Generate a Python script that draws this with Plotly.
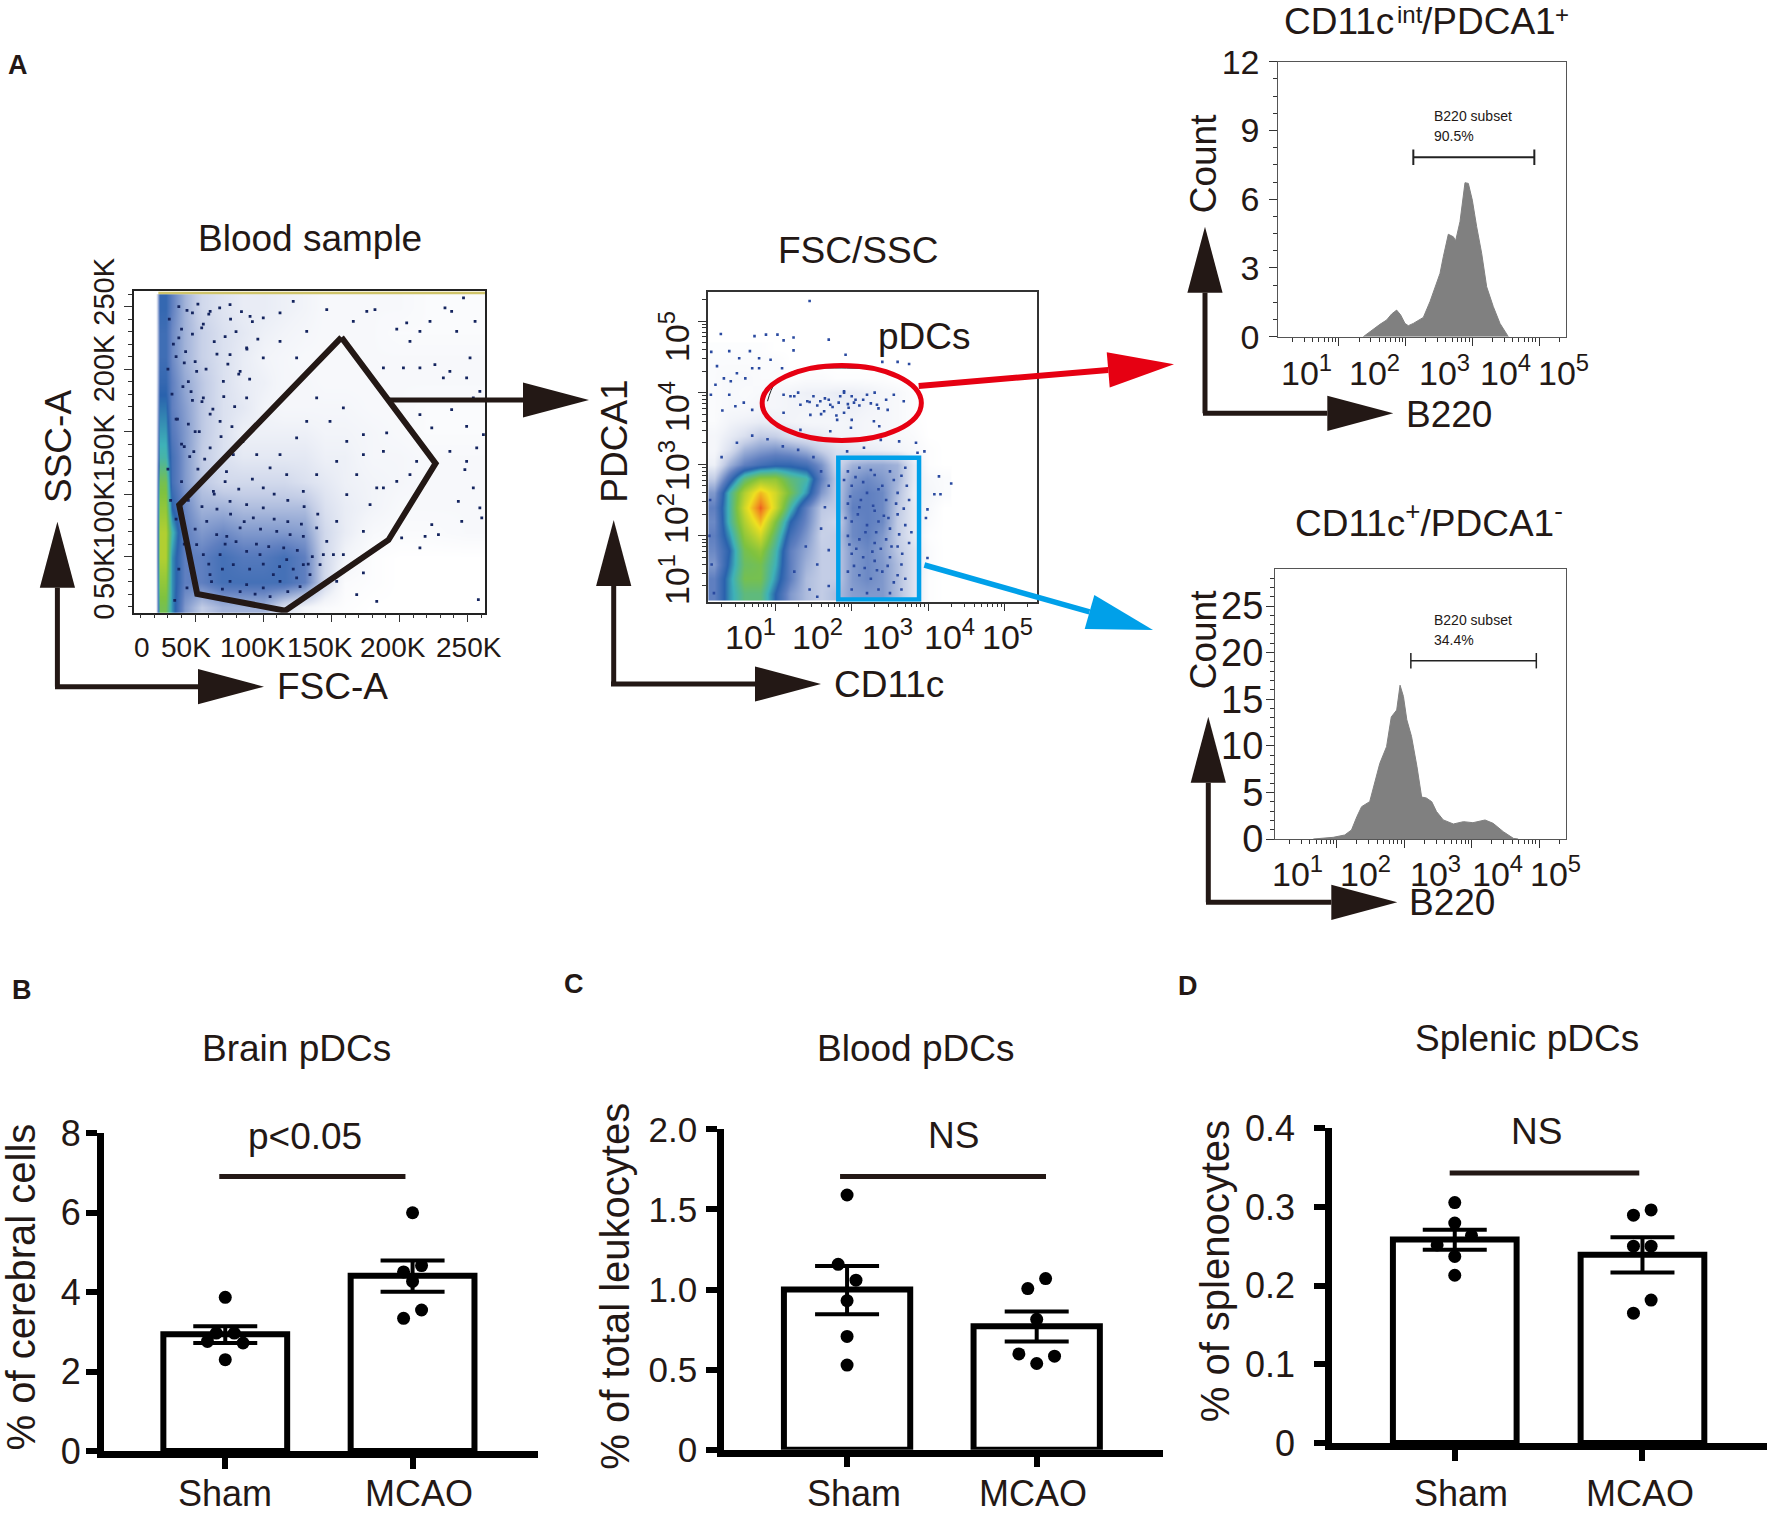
import numpy as np
import plotly.graph_objects as go

# ---------- panel A data ----------
# FSC/SSC plot: estimated density of the cloud, in thousands
fsc_grid = [21, 24, 28, 33, 42, 55, 70, 85, 100, 115, 130, 145, 160, 180, 200, 220, 250]
ssc_grid = [10, 30, 50, 70, 90, 110, 130, 150, 170, 190, 210, 230, 250]
ssc_density = [
    [0, 6, 6, 4.5, 2.5, 1.5, 2, 2, 2, 1, .5, .2, .1, 0, 0, 0, 0],
    [0, 6.5, 6.5, 4.5, 3, 3, 3.5, 3.5, 3.5, 3.5, 3, 1.2, .2, .1, 0, 0, 0],
    [0, 7, 7, 4.5, 3, 3, 3.5, 3.2, 3.2, 3.5, 3, 1.2, .5, .1, 0, 0, 0],
    [0, 7, 7, 5, 3, 2.5, 2.8, 2.5, 2.5, 2.5, 2.4, 1.2, .7, .3, .2, .2, .3],
    [0, 6.5, 6.5, 4, 2.8, 2, 2, 1.8, 1.8, 1.8, 1.8, 1, .7, .5, .3, .3, .3],
    [0, 6, 6, 3.5, 2.5, 1.6, 1.2, 1.2, 1.2, 1.2, 1, .8, .6, .5, .4, .3, .3],
    [0, 5, 5, 3.5, 2.5, 1.5, 1, .8, .8, .8, .8, .6, .6, .4, .4, .3, .3],
    [0, 4.6, 4.6, 3.2, 2.5, 1.6, 1, .6, .6, .6, .6, .5, .5, .4, .3, .2, .2],
    [0, 4.2, 4.2, 3, 2.4, 1.6, 1, .8, .5, .4, .4, .4, .4, .3, .3, .2, .2],
    [0, 3.8, 3.8, 3, 2.2, 1.6, 1, .7, .6, .4, .4, .3, .3, .3, .3, .3, .3],
    [0, 3.6, 3.6, 2.8, 2, 1.4, 1, .7, .5, .4, .3, .3, .3, .3, .3, .3, .3],
    [0, 3.6, 3.6, 2.8, 2, 1.4, 1, .8, .6, .5, .4, .3, .3, .3, .2, .2, .2],
    [0, 3.8, 3.8, 3, 2, 1.2, .9, .7, .7, .6, .5, .3, .3, .3, .3, .2, .2],
]
fsc_dots = [198, 205.3, 215, 222.4, 233.4, 238.3, 247, 255.5, 251.8, 242, 226, 232.2, 249.3, 259, 215, 202.9,
            188.2, 176, 182, 166.1, 146.6, 122, 131.9, 112.3, 207.7, 237, 254.2, 215, 223.7, 238.3, 249.3, 261.6,
            256.7, 249.3, 237, 248, 254.2, 243.2, 259, 260.4, 245.7, 223.7, 228.6, 218.8, 215, 201.6, 207.7, 198,
            188.2, 178.4, 183.3, 168.6, 161.3, 153.9, 173.5, 158.8, 173.5, 153.9, 168.6, 183.3, 257.9, 161.3, 173.5,
            190.6, 153.9, 139.2, 173.5, 188.2, 212.6, 149, 158.8, 139.2, 131.9, 124.5, 112.3, 105, 95.2, 117.2,
            129.4, 100, 87.8, 75.6, 63.4, 78, 87.8, 83, 75.6, 70.7, 87.8, 100, 112.3, 124.5, 68.3, 61, 56, 51.1,
            54.8, 61, 75.6, 90.3, 100,
            # lower part of the gate
            58.5, 65.8, 73.2, 83, 92.7, 100, 109.9, 119.7, 129.4, 139.2, 146.6, 151.5, 141.7, 129.4, 117.2, 107.4,
            97.6, 87.8, 78, 68.3, 60.9, 56, 51.1, 75.6, 87.8, 100, 112.3, 124.5, 134.3, 144.1,
            62, 70, 83, 94, 105, 118, 127, 72, 80, 95, 104, 115, 125, 136, 60, 70, 90, 100, 112, 122, 133,
            66, 76, 86, 98, 108, 118, 128, 50, 55, 64, 72, 82, 92, 108, 118, 130, 140,
            # left band
            30, 33, 36, 40, 31, 38, 42, 45, 30, 40, 45, 36, 42, 38, 44, 35, 48, 50, 46, 52, 32, 34, 48,
            # upper left of the gate
            38, 44, 52, 60, 68, 76, 84, 92, 40, 48, 56, 64, 72, 80, 88, 96, 36, 43, 50, 58, 66, 74, 82, 90,
            41, 47, 55, 63, 71, 79, 37, 45, 53, 61, 69, 77, 85, 42, 49, 57, 65, 73]
ssc_dots = [232, 237, 230.3, 238.3, 249, 246.3, 257, 238.3, 209, 230.3, 203.7, 193, 193, 182.3, 201, 201,
            201, 246.3, 247.7, 238.3, 247.7, 254.3, 230.3, 245, 222.3, 198.3, 177, 163.7, 153, 167.7, 154.3, 147.7,
            137, 126.3, 134.3, 119.7, 105, 94.3, 89, 81, 78.3, 75.7, 67.7, 66.3, 57, 65, 115.7, 110.3,
            105, 91.7, 105, 115.7, 99.7, 78.3, 70.3, 51.7, 37, 30.3, 19.6, 14.3, 15.6, 142.3, 147.7,
            149, 126.3, 115.7, 131.7, 134.3, 126.3, 158.3, 169, 177, 158.3, 145, 131.7, 121, 131.7, 115.7,
            102.3, 105, 91.7, 94.3, 102.3, 131.7, 177, 198.3, 211.7, 190.3, 217, 209, 222.3, 209, 158.3, 137, 177, 198.3,
            233, 246.3, 251.7, 242.3, 241,
            78.3, 67.7, 66.3, 73, 81, 89, 70.3, 67.7, 66.3, 73, 62.3, 51.7, 43.6, 43.6, 47.6, 35.6,
            51.7, 54.3, 43.6, 51.7, 35.6, 51.7, 59.6, 30.3, 27.6, 25, 30.3, 33, 35.6, 51.7,
            30, 24, 22, 20, 18, 22, 26, 60, 62, 60, 58, 57, 55, 50, 44, 40, 40, 44, 42, 40, 44,
            88, 84, 78, 72, 80, 78, 76, 72, 90, 100, 110, 104, 112, 100, 95, 90, 84,
            200, 180, 160, 140, 240, 225, 205, 190, 120, 110, 95, 80, 60, 40, 25, 15, 175, 150, 130, 120, 95, 220, 245,
            250, 247, 252, 244, 249, 240, 246, 238, 232, 228, 236, 222, 226, 230, 216, 224, 210, 214, 206, 200, 212, 204, 196, 192,
            186, 182, 174, 168, 178, 170, 160, 156, 150, 164, 146, 154, 142, 138, 134, 128, 122, 118]
top_edge_fsc = [23, 263]
top_edge_ssc = [261, 261]
gate_fsc = [157.4, 226.5, 191.9, 116.1, 51.5, 38.3, 157.4]
gate_ssc = [225.5, 124.7, 63.4, 6.8, 20.2, 91.4, 225.5]

# CD11c/PDCA1 plot, log10 decades
cd11c_grid = [.2, .4, .6, .8, 1, 1.2, 1.4, 1.6, 1.8, 2, 2.2, 2.4, 2.6, 2.8, 3, 3.2]
pdca1_grid = [.2, .4, .6, .8, 1, 1.2, 1.4, 1.6, 1.8, 2, 2.2, 2.4, 2.6, 2.8, 3, 3.2, 3.4, 3.6]
pdca1_density = [
    [3, 4.5, 5.5, 5.5, 4, 2.5, 1.8, 1.5, 1.8, 2.4, 2.5, 2.5, 1.8, 1, .1, 0],
    [3, 4.5, 6, 6, 4.5, 3, 1.8, 1.5, 1.5, 2.5, 2.8, 2.5, 1.8, 1, .1, 0],
    [2.5, 4.2, 5.8, 6, 4.8, 3, 2, 1.5, 1.5, 2.5, 2.8, 2.5, 1.8, 1, .2, 0],
    [2.8, 4, 6, 6.5, 5, 3, 2.2, 1.5, 1.5, 2.5, 2.8, 2.4, 1.6, 1, .2, 0],
    [3, 4.5, 6.5, 7.5, 5.5, 3.5, 2.5, 1.4, 1.5, 2.8, 3, 2.5, 1.5, .8, .1, 0],
    [2.8, 5, 7, 8.5, 6.2, 4, 2.8, 1.5, 1.2, 2.8, 3, 2.8, 1.5, .8, .2, 0],
    [3, 5, 7.5, 9.5, 7.5, 5, 3, 1.6, 1.5, 3, 3, 2.8, 1.6, .8, .3, 0],
    [2.5, 5, 7, 8.5, 7.5, 6, 4.5, 2.5, 1.5, 2.8, 3, 2.8, 1.8, .7, .4, .2],
    [1.5, 3.5, 5.5, 6.5, 6.5, 5.5, 5, 3, 1.5, 2.5, 2.8, 2.5, 2, .8, .3, .2],
    [.6, 2, 3, 3.5, 3.8, 3.8, 3.5, 2.6, 1.2, 2, 2.2, 2.2, 2, .8, .1, 0],
    [.4, 1, 2, 2.4, 2.6, 2.4, 2, 1.4, 1, .8, .7, .6, .5, .3, .1, 0],
    [.4, .7, 1, 1.5, 1.4, 1, .8, .7, .5, .5, .4, .4, .3, .2, 0, 0],
    [.2, .5, .6, .7, .6, .5, .4, .4, .4, .5, .4, .4, .3, .1, 0, 0],
    [.2, .3, .3, .4, .4, .5, .5, .5, .6, .6, .5, .4, .3, .1, 0, 0],
    [.2, .3, .2, .3, .4, .5, .6, .6, .7, .7, .6, .4, .3, .1, 0, 0],
    [.2, .3, .3, .2, .2, .1, .2, .2, .1, .1, .1, .1, 0, 0, 0, 0],
    [.2, .2, .2, .2, .2, 0, 0, 0, 0, 0, 0, 0, 0, 0, 0, 0],
    [.1, .1, .1, .1, 0, 0, 0, 0, 0, 0, 0, 0, 0, 0, 0, 0],
]
cd11c_dots = [1.45, 1.7, 1.03, .73, .88, 1.11, 1.24, .29, .165, .4, .53, .67, .79, .94, 1.24, 1.92, 2.4, 2.6, 2.75,
              .24, .7, .79, 1.09, .5, .33, .22, .42, .61, .16, .4, .59, .7, .31, .48, 1.11, 1.25, 1.42, 1.33, 1.59,
              1.72, 1.83, 1.9, 1.96, 2.03, 2.2, 2.33, 2.47, 2.68, 2.55, 1.11, 1.46, 1.64, 1.81, 1.99, 2.29, 2.36,
              1.33, 1.72, 2.38, 2.62, 2.84, 2.86, 2.95, 2.16, 1.94, 2.99, 2.97, 3.08, 3.14, 3.3, 2.99, 3.16,
              # inside the blue gate
              1.95, 2.1, 2.3, 2.5, 2.7, 2.0, 2.2, 2.4, 2.6, 2.75, 1.95, 2.1, 2.3, 2.45, 2.6, 2.0, 2.2, 2.35, 2.5, 2.7,
              1.95, 2.1, 2.3, 2.45, 2.6, 2.75, 2.0, 2.15, 2.3, 2.5, 2.65, 1.95, 2.1, 2.25, 2.4, 2.55, 2.7, 2.0, 2.2,
              2.35, 2.5, 2.65,
              1.9, 2.05, 2.15, 2.25, 2.35, 2.55, 2.65, 2.72, 1.98, 2.12, 2.28, 2.42, 2.58, 2.68,
              1.92, 2.08, 2.18, 2.32, 2.48, 2.62, 2.78, 1.97, 2.06, 2.27, 2.38, 2.52, 2.66, 2.03, 2.17, 2.33, 2.47, 2.6,
              # edge of the main cloud
              .3, .5, .7, .9, 1.1, 1.3, 1.5, 1.6, 1.7, 1.65, 1.6, 1.7, 1.55, 1.7, 1.45, 1.55, .15, .14, .17, .2, 1.25, 1.4,
              # inside the red gate
              1.2, 1.3, 1.5, 1.7, 1.9, 2.0, 2.15, 2.3, 2.45,
              1.45, 1.55, 1.65, 1.75, 1.85, 1.95, 2.05, 2.1, 2.25, 2.35, 1.6, 1.8, 1.9, 2.0]
pdca1_dots = [4.28, 3.74, 3.81, 3.79, 3.81, 3.73, 3.77, 3.82, 3.57, 3.58, 3.48, 3.58, 3.48, 3.46, 3.59, 3.53, 3.43, 3.43, 3.4,
              3.37, 3.34, 3.34, 3.34, 3.27, 3.2, 3.11, 3.16, 3.2, 2.97, 2.97, 2.86, 2.76, 2.75, 2.81, 2.97, 2.95, 2.88, 2.83, 2.88,
              2.83, 2.86, 3.02, 2.79, 2.86, 2.97, 2.83, 2.76, 2.88, 2.97, 2.72, 2.69, 2.74, 2.62, 2.51, 2.6, 2.53,
              2.48, 2.46, 2.34, 2.32, 2.3, 2.16, 2.18, 2.23, 2.18, 1.37, 1.25, 1.58, 1.83, 1.73, .69, 1.58,
              1.9, 1.95, 1.85, 1.9, 1.95, 1.7, 1.6, 1.7, 1.6, 1.5, 1.45, 1.4, 1.35, 1.5, 1.3, 1.2, 1.15, 1.2, 1.1, 1.15,
              1.0, .95, .9, .95, .85, .9, .75, .7, .65, .7, .6, .5, .45, .4, .5, .35, .4, .25, .2,
              .25, .2, .25,
              1.78, 1.82, 1.75, 1.92, 1.65, 1.78, 1.84, 1.7, 1.55, 1.5, 1.42, 1.28, 1.45, 1.38,
              1.25, 1.3, 1.05, 1.05, 1.25, 1.02, 1.05, .88, .82, .78, .82, .85, .75, .58, .55, .52, .58, .45,
              2.1, 2.3, 2.4, 2.35, 2.25, 2.2, 2.1, 1.9, 1.7, 1.4, 1.1, .8, .6, .3, .25, .15, 1.5, 1.0, .6, .2, .5, .85,
              2.95, 3.0, 2.95, 2.9, 3.0, 2.95, 2.9, 3.0, 2.9,
              2.87, 2.82, 2.92, 2.8, 2.95, 2.84, 2.9, 2.82, 2.85, 2.78, 2.7, 2.68, 2.72, 2.62]
# thin black arc left inside the top of the red gate
arc_cd11c = [.9, 1.0, 1.25, 1.55, 2.12]
arc_pdca1 = [2.88, 3.13, 3.30, 3.34, 3.34]

# B220 histograms
hist1_x = [1.365, 1.49, 1.615, 1.715, 1.79, 1.865, 1.925, 1.99, 2.04, 2.115, 2.265, 2.365, 2.44, 2.515, 2.565, 2.64,
           2.715, 2.75, 2.815, 2.89, 2.94, 3.0, 3.065, 3.14, 3.215, 3.315, 3.415, 3.54]
hist1_y = [0, .29, .54, .73, .99, 1.16, .95, .58, .48, .58, .84, 1.53, 2.1, 2.76, 3.49, 4.47,
           4.36, 4.19, 5.02, 6.72, 6.69, 5.96, 4.8, 3.64, 2.18, 1.31, .58, 0]
hist2_x = [.654, .95, 1.12, 1.22, 1.3, 1.37, 1.49, 1.57, 1.64, 1.74, 1.81, 1.89, 1.94, 1.99, 2.04, 2.11, 2.19, 2.26,
           2.33, 2.41, 2.48, 2.58, 2.73, 2.88, 3.02, 3.2, 3.32, 3.47, 3.62, 3.69]
hist2_y = [0, .18, .43, .97, 2.4, 3.47, 4.01, 6.33, 8.12, 9.91, 13.1, 13.84, 16.5, 15.3, 12.8, 11, 7.8, 4.5,
           4.4, 4, 2.95, 2.05, 1.61, 1.86, 1.75, 2.04, 1.68, .79, .07, 0]
hist1_gate_x = [2.115, 3.93]
hist1_gate_y = [7.83, 7.83]
hist2_gate_x = [2.1, 3.96]
hist2_gate_y = [19.13, 19.13]

# ---------- panels B, C, D data ----------
groups = ["Sham", "MCAO"]

brain_means = [2.94, 4.41]
brain_err_up = [.20, .39]
brain_err_down = [.22, .40]
brain_x = [0, 0, -.095, .095, -.048, .048, 1, 1.048, .952, 1, 1.048, .952]
brain_y = [3.87, 2.3, 2.76, 2.72, 2.97, 2.97, 6.0, 4.67, 4.51, 4.27, 3.55, 3.34]

blood_means = [1.0, .77]
blood_err_up = [.146, .092]
blood_err_down = [.155, .094]
blood_x = [0, -.047, .047, 0, 0, 0, 1.047, .953, 1, .906, 1.094, 1]
blood_y = [1.59, 1.157, 1.058, .93, .707, .528, 1.068, 1.006, .814, .598, .584, .538]

spleen_means = [.2586, .2393]
spleen_err_up = [.0124, .0222]
spleen_err_down = [.0131, .0227]
spleen_x = [0, 0, .089, -.094, 0, 0, 1.046, .952, .952, 1.046, 1.046, .952]
spleen_y = [.3056, .2795, .2636, .2518, .2371, .2132, .2963, .2896, .2502, .2502, .1817, .165]

W, H = 1772, 1514
FONT = "Liberation Sans"
INK = "#231815"
RED = "#e60012"
CYAN = "#00a0e9"

flow_colors = [[0, "#ffffff"], [.05, "#f2f4f9"], [.15, "#c3cde6"], [.3, "#5f7fc0"], [.4, "#2a62ad"], [.48, "#3fb2b8"],
               [.62, "#7fc23f"], [.8, "#f0e020"], [.92, "#f08020"], [1, "#e8281e"]]

fig = go.Figure()


def px(x):
    return x / W


def py(y):
    return 1 - y / H


def add_text(x, y, text, size=37, angle=0, anchor="center", bold=False):
    fig.add_annotation(x=px(x), y=py(y), xref="paper", yref="paper", text=f"<b>{text}</b>" if bold else text,
                       showarrow=False, xanchor=anchor, yanchor="middle", textangle=angle,
                       font=dict(family=FONT, size=size, color=INK))


def add_arrow(x0, y0, x1, y1, color=INK, width=5, head=66, half=17.6):
    # line up to the base of the head, then a filled triangle
    length = np.hypot(x1 - x0, y1 - y0)
    ux, uy = (x1 - x0) / length, (y1 - y0) / length
    bx, by = x1 - ux * head, y1 - uy * head
    fig.add_shape(type="line", xref="paper", yref="paper", x0=px(x0), y0=py(y0), x1=px(bx), y1=py(by),
                  line=dict(color=color, width=width), layer="above")
    pts = [(bx - uy * half, by + ux * half), (x1, y1), (bx + uy * half, by - ux * half)]
    path = "M " + " L ".join(f"{px(a):.5f},{py(b):.5f}" for a, b in pts) + " Z"
    fig.add_shape(type="path", xref="paper", yref="paper", path=path, fillcolor=color,
                  line=dict(color=color, width=0), layer="above")


def set_axes(n, left, right, top, bottom, xaxis, yaxis):
    base = dict(showgrid=False, zeroline=False, layer="above traces", automargin=False)
    fig.layout[f"xaxis{n}"] = dict(base, domain=[px(left), px(right)], anchor=f"y{n}", **xaxis)
    fig.layout[f"yaxis{n}"] = dict(base, domain=[py(bottom), py(top)], anchor=f"x{n}", **yaxis)


def log_minor(low, high):
    return [d + np.log10(k) for d in range(low, high) for k in range(2, 10)]


def flow_x(rng, major=(1, 2, 3, 4)):
    return dict(range=rng, tickmode="array", tickvals=list(major), showticklabels=False, ticks="outside",
                ticklen=8, tickwidth=1, tickcolor="#333", showline=True, linecolor="#333", linewidth=1.5, mirror=True,
                minor=dict(tickmode="array", tickvals=log_minor(0, 5), ticks="outside", ticklen=4, tickcolor="#333"))


# ---------- FSC/SSC ----------
set_axes(1, 134, 485.3, 290.7, 612.7,
         dict(range=[5.1, 263], tickmode="array", tickvals=[50, 100, 150, 200, 250], showticklabels=False,
              ticks="outside", ticklen=8, tickcolor="#333", showline=True, linecolor="#222", linewidth=1.5, mirror=True,
              minor=dict(dtick=10, ticks="outside", ticklen=4, tickcolor="#333")),
         dict(range=[5.2, 262.8], tickmode="array", tickvals=[50, 100, 150, 200, 250], showticklabels=False,
              ticks="outside", ticklen=8, tickcolor="#333", showline=True, linecolor="#222", linewidth=1.5, mirror=True,
              minor=dict(dtick=10, ticks="outside", ticklen=4, tickcolor="#333")))
fig.add_trace(go.Heatmap(x=fsc_grid, y=ssc_grid, z=ssc_density, colorscale=flow_colors, zmin=0, zmax=10,
                         zsmooth="best", showscale=False, xaxis="x1", yaxis="y1"))
fig.add_trace(go.Scatter(x=fsc_dots, y=ssc_dots, mode="markers", xaxis="x1", yaxis="y1",
                         marker=dict(symbol="square", size=2.8, color="#14245e")))
fig.add_trace(go.Scatter(x=top_edge_fsc, y=top_edge_ssc, mode="lines", xaxis="x1", yaxis="y1",
                         line=dict(color="#cfc46a", width=2.5)))
fig.add_trace(go.Scatter(x=gate_fsc, y=gate_ssc, mode="lines", xaxis="x1", yaxis="y1",
                         line=dict(color=INK, width=6)))

# ---------- CD11c/PDCA1 ----------
set_axes(2, 708.2, 1037.3, 291.7, 601.7, flow_x([.125, 4.425]), flow_x([.08, 4.41]))
fig.add_trace(go.Heatmap(x=cd11c_grid, y=pdca1_grid, z=pdca1_density, colorscale=flow_colors, zmin=0, zmax=10,
                         zsmooth="best", showscale=False, xaxis="x2", yaxis="y2"))
fig.add_trace(go.Scatter(x=cd11c_dots, y=pdca1_dots, mode="markers", xaxis="x2", yaxis="y2",
                         marker=dict(symbol="square", size=2.6, color="#2a4aa0")))
fig.add_trace(go.Scatter(x=arc_cd11c, y=arc_pdca1, mode="lines", xaxis="x2", yaxis="y2",
                         line=dict(color="#222", width=1, shape="spline")))
fig.add_shape(type="circle", xref="x2", yref="y2", x0=.83, x1=2.91, y0=2.33, y1=3.38,
              line=dict(color=RED, width=5))
fig.add_shape(type="rect", xref="x2", yref="y2", x0=1.825, x1=2.88, y0=.11, y1=2.09,
              line=dict(color=CYAN, width=4.5))


# ---------- histograms ----------
def hist_panel(n, box, xr, yr, major, minor_step, hx, hy, gx, gy, gate_w, tick_size, standoff):
    set_axes(n, *box,
             dict(flow_x(xr), linecolor="#555", linewidth=1),
             dict(range=yr, tickmode="array", tickvals=major, ticks="outside", ticklen=8, tickcolor="#333",
                  showline=True, linecolor="#555", linewidth=1, mirror=True, ticklabelstandoff=standoff,
                  tickfont=dict(family=FONT, size=tick_size, color=INK),
                  minor=dict(dtick=minor_step, tick0=0, ticks="outside", ticklen=4, tickcolor="#333")))
    fig.add_trace(go.Scatter(x=hx, y=hy, mode="lines", fill="tozeroy", fillcolor="#808080",
                             line=dict(color="#808080", width=1), xaxis=f"x{n}", yaxis=f"y{n}"))
    fig.add_trace(go.Scatter(x=gx, y=gy, mode="lines+markers", xaxis=f"x{n}", yaxis=f"y{n}",
                             line=dict(color="#222", width=gate_w),
                             marker=dict(symbol="line-ns", size=11, line=dict(color="#222", width=gate_w))))


hist_panel(3, (1278.3, 1566, 61.7, 336.7), [.09, 4.405], [0, 12], [0, 3, 6, 9, 12], .75,
           hist1_x, hist1_y, hist1_gate_x, hist1_gate_y, 2, 34, 3)
hist_panel(4, (1275, 1566, 569, 839), [.086, 4.4], [0, 28.97], [0, 5, 10, 15, 20, 25], 1,
           hist2_x, hist2_y, hist2_gate_x, hist2_gate_y, 1.5, 38, -5)


# ---------- bar panels ----------
def bar_panel(n, box, xr, yr, major, labels, means, up, down, dx, dy, sig_x, sig_y, bar_w, tick_size, standoff):
    set_axes(n, *box,
             dict(range=xr, tickmode="array", tickvals=[0, 1], showticklabels=False, ticks="outside",
                  ticklen=11, tickwidth=5.5, tickcolor="black", showline=True, linecolor="black", linewidth=6.5),
             dict(range=yr, tickmode="array", tickvals=major, ticktext=labels, ticks="outside", ticklen=11,
                  tickwidth=6, tickcolor="black", showline=True, linecolor="black", linewidth=6.5,
                  ticklabelstandoff=standoff, tickfont=dict(family=FONT, size=tick_size, color=INK)))
    fig.add_trace(go.Bar(x=[0, 1], y=means, width=bar_w, marker=dict(color="white", line=dict(color="black", width=6)),
                         xaxis=f"x{n}", yaxis=f"y{n}",
                         error_y=dict(type="data", symmetric=False, array=up, arrayminus=down, color="black",
                                      thickness=4, width=32)))
    fig.add_trace(go.Scatter(x=dx, y=dy, mode="markers", xaxis=f"x{n}", yaxis=f"y{n}",
                             marker=dict(color="black", size=13)))
    fig.add_trace(go.Scatter(x=sig_x, y=sig_y, mode="lines", xaxis=f"x{n}", yaxis=f"y{n}",
                             line=dict(color=INK, width=5)))


bar_panel(5, (103.7, 537.5, 1133.3, 1451), [-.649, 1.667], [0, 8], [0, 2, 4, 6, 8], ["0", "2", "4", "6", "8"],
          brain_means, brain_err_up, brain_err_down, brain_x, brain_y, [-.032, .962], [6.91, 6.91], .661, 36, -2)
bar_panel(6, (724, 1163, 1129.3, 1449.7), [-.649, 1.666], [0, 2], [0, .5, 1, 1.5, 2], ["0", "0.5", "1.0", "1.5", "2.0"],
          blood_means, blood_err_up, blood_err_down, blood_x, blood_y, [-.037, 1.049], [1.705, 1.705], .666, 35, 2)
bar_panel(7, (1332, 1767.3, 1128.3, 1443), [-.654, 1.665], [0, .4], [0, .1, .2, .3, .4], ["0", "0.1", "0.2", "0.3", "0.4"],
          spleen_means, spleen_err_up, spleen_err_down, spleen_x, spleen_y, [-.027, .983], [.3433, .3433], .659, 36, 12)

# ---------- arrows ----------
add_arrow(57.4, 686.7, 57.4, 521.7)
add_arrow(55, 686.7, 264, 686.7)
add_arrow(388, 400, 589, 400)
add_arrow(613.7, 684, 613.7, 520)
add_arrow(611, 684, 821, 684)
add_arrow(918.7, 386, 1174, 364.3, color=RED, width=6)
add_arrow(924.4, 565, 1153, 630, color=CYAN, width=5.5)
add_arrow(1205, 413.3, 1205, 226.7)
add_arrow(1203, 413.3, 1393.3, 413.3)
add_arrow(1208.3, 902.3, 1208.3, 716.7)
add_arrow(1206, 902.3, 1397.3, 902.3)

# ---------- panel letters, titles and pasted axis labels ----------
add_text(18, 65, "A", 27, bold=True)
add_text(22, 990, "B", 27, bold=True)
add_text(574, 984, "C", 27, bold=True)
add_text(1188, 986, "D", 27, bold=True)

add_text(310, 238, "Blood sample")
for label, x in zip(["0", "50K", "100K", "150K", "200K", "250K"], [142, 186, 253, 320, 393, 469]):
    add_text(x, 647, label, 28)
for label, y in zip(["0", "50K", "100K", "150K", "200K", "250K"], [611.7, 573, 515, 448, 368.3, 291.7]):
    add_text(104, y, label, 29, angle=-90)
add_text(332, 686, "FSC-A")
add_text(58, 447, "SSC-A", angle=-90)

decades = ["10<sup>1</sup>", "10<sup>2</sup>", "10<sup>3</sup>", "10<sup>4</sup>", "10<sup>5</sup>"]
add_text(857.5, 250, "FSC/SSC")
add_text(924.4, 336.7, "pDCs")
for label, x in zip(decades, [750, 817, 887, 949, 1007]):
    add_text(x, 635, label, 34)
for label, y in zip(decades, [580, 519, 466, 407, 337]):
    add_text(674, y, label, 34, angle=-90)
add_text(615, 441.7, "PDCA1", angle=-90)
add_text(889, 684, "CD11c")

# first title is set piece by piece: a raised superscript would run off the top of the page
add_text(1281.5, 21.5, "CD11c", anchor="left")
add_text(1395, 14.5, "int", 24, anchor="left")
add_text(1420, 21.5, "/PDCA1", anchor="left")
add_text(1553, 14.5, "+", 24, anchor="left")
for label, x in zip(decades, [1306.7, 1374, 1444, 1505.7, 1563]):
    add_text(x, 370, label, 34)
add_text(1203.3, 164, "Count", angle=-90)
add_text(1449.3, 414.3, "B220")
add_text(1431.5, 116, "B220 subset", 14, anchor="left")
add_text(1431.5, 136, "90.5%", 14, anchor="left")

add_text(1429.3, 520, "CD11c<sup>+</sup>/PDCA1<sup>-</sup>")
for label, x in zip(decades, [1297, 1365, 1435, 1497.3, 1555]):
    add_text(x, 871.7, label, 34)
add_text(1203.3, 640, "Count", angle=-90)
add_text(1452.3, 902.3, "B220")
add_text(1431.5, 620, "B220 subset", 14, anchor="left")
add_text(1431.5, 640, "34.4%", 14, anchor="left")

add_text(296.4, 1048.3, "Brain pDCs")
add_text(304.6, 1136.7, "p<0.05")
add_text(20, 1287.5, "% of cerebral cells", 40, angle=-90)
add_text(225, 1493.5, groups[0], 36)
add_text(419, 1493.5, groups[1], 36)

add_text(915, 1048.3, "Blood pDCs")
add_text(953.2, 1135, "NS")
add_text(615, 1286.7, "% of total leukocytes", 40, angle=-90)
add_text(854, 1493.5, groups[0], 36)
add_text(1033, 1493.5, groups[1], 36)

add_text(1526.9, 1038.3, "Splenic pDCs")
add_text(1536.7, 1131, "NS")
add_text(1214.6, 1271.7, "% of splenocytes", 40, angle=-90)
add_text(1461.3, 1493.5, groups[0], 36)
add_text(1640, 1493.5, groups[1], 36)

fig.update_layout(template="none", width=W, height=H, margin=dict(l=0, r=0, t=0, b=0), showlegend=False,
                  paper_bgcolor="white", plot_bgcolor="white", barmode="overlay",
                  font=dict(family=FONT, color=INK))

fig.write_html("out.html", post_script="document.body.style.margin='0';", config=dict(displayModeBar=False))
